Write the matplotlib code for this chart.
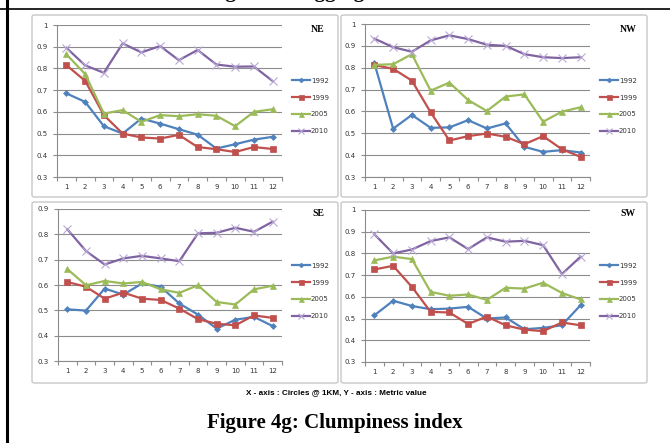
import matplotlib.pyplot as plt
from matplotlib.patches import FancyBboxPatch
from matplotlib.lines import Line2D
import numpy as np

# Données
circles = list(range(1, 13))
years = ['1992', '1999', '2005', '2010']

ne_1992 = [0.685, 0.646, 0.534, 0.500, 0.569, 0.546, 0.520, 0.495, 0.431, 0.451, 0.472, 0.485]
ne_1999 = [0.815, 0.743, 0.585, 0.500, 0.482, 0.477, 0.494, 0.438, 0.428, 0.415, 0.438, 0.429]
ne_2005 = [0.865, 0.774, 0.592, 0.608, 0.554, 0.585, 0.580, 0.589, 0.582, 0.534, 0.600, 0.612]
ne_2010 = [0.895, 0.814, 0.780, 0.915, 0.874, 0.903, 0.838, 0.885, 0.818, 0.808, 0.809, 0.742]

nw_1992 = [0.821, 0.521, 0.584, 0.525, 0.527, 0.560, 0.522, 0.545, 0.438, 0.415, 0.423, 0.412]
nw_1999 = [0.812, 0.795, 0.741, 0.596, 0.467, 0.487, 0.499, 0.484, 0.450, 0.487, 0.427, 0.392]
nw_2005 = [0.813, 0.816, 0.862, 0.695, 0.732, 0.652, 0.602, 0.668, 0.678, 0.553, 0.599, 0.619]
nw_2010 = [0.933, 0.894, 0.873, 0.925, 0.948, 0.931, 0.905, 0.900, 0.862, 0.848, 0.844, 0.848]

se_1992 = [0.504, 0.499, 0.586, 0.562, 0.606, 0.593, 0.527, 0.483, 0.428, 0.463, 0.474, 0.438]
se_1999 = [0.612, 0.593, 0.546, 0.570, 0.546, 0.541, 0.507, 0.465, 0.447, 0.441, 0.480, 0.470]
se_2005 = [0.663, 0.599, 0.616, 0.606, 0.612, 0.583, 0.569, 0.599, 0.533, 0.523, 0.583, 0.597]
se_2010 = [0.820, 0.734, 0.681, 0.705, 0.715, 0.705, 0.694, 0.804, 0.806, 0.826, 0.810, 0.850]

sw_1992 = [0.515, 0.582, 0.558, 0.543, 0.546, 0.554, 0.500, 0.505, 0.451, 0.457, 0.469, 0.562]
sw_1999 = [0.726, 0.743, 0.646, 0.531, 0.528, 0.475, 0.509, 0.469, 0.449, 0.442, 0.482, 0.469]
sw_2005 = [0.768, 0.785, 0.774, 0.623, 0.605, 0.611, 0.586, 0.642, 0.638, 0.665, 0.618, 0.588]
sw_2010 = [0.888, 0.800, 0.818, 0.857, 0.874, 0.820, 0.874, 0.854, 0.858, 0.838, 0.705, 0.785]

# Styles Excel
colors = ['#4F81BD', '#C0504D', '#9BBB59', '#8064A2']
edge_colors = ['#4F81BD', '#C0504D', '#9BBB59', '#B9A8D6']
markers = ['D', 's', '^', 'x']
msizes = [3, 4.5, 4.5, 5.5]

W, H = 670, 443
fig = plt.figure(figsize=(W / 100, H / 100), dpi=100)


def fx(px):
    return px / W


def fy(py):
    return 1 - py / H


def panel(name, series, ylo, yhi, ax_box, frame, legend_y, label_pos):
    # cadre gris du graphique
    x0, y0, x1, y1 = frame
    fig.patches.append(FancyBboxPatch((fx(x0), fy(y1)), fx(x1 - x0), (y1 - y0) / H,
                                      boxstyle='round,pad=0,rounding_size=0.004',
                                      transform=fig.transFigure, facecolor='none',
                                      edgecolor='#C8C8C8', linewidth=1.0, zorder=-5))
    ax_x0, ax_x1, top_px, bot_px = ax_box
    ax = fig.add_axes([fx(ax_x0), fy(bot_px), fx(ax_x1 - ax_x0), (bot_px - top_px) / H])
    ax.set_facecolor('none')
    for vals, c, ec, m, ms in zip(series, colors, edge_colors, markers, msizes):
        ax.plot(circles, vals, color=c, marker=m, markersize=ms, linewidth=1.6,
                markeredgecolor=ec, markerfacecolor=c,
                markeredgewidth=0.8 if m == 'x' else 0.5)
    ax.set_xlim(0.5, 12.5)
    ax.set_ylim(ylo, yhi)
    yt = np.round(np.arange(ylo, yhi + 0.001, 0.1), 1)
    ax.set_yticks(yt)
    ax.set_yticklabels([('%g' % v) for v in yt])
    ax.set_xticks(circles)
    ax.set_xticks(np.arange(0.5, 13, 1), minor=True)
    ax.grid(axis='y', color='#8C8C8C', linewidth=0.8)
    ax.set_axisbelow(True)
    for s in ['top', 'right']:
        ax.spines[s].set_visible(False)
    for s in ['left', 'bottom']:
        ax.spines[s].set_color('#8C8C8C')
        ax.spines[s].set_linewidth(0.8)
    ax.tick_params(axis='both', which='major', labelsize=5, colors='#8C8C8C',
                   labelcolor='#333333', length=3, width=0.8)
    ax.tick_params(axis='x', which='major', length=0, pad=5)
    ax.tick_params(axis='x', which='minor', length=3, width=0.8, color='#8C8C8C')
    handles = [Line2D([], [], color=c, marker=m, markersize=ms * 0.8, linewidth=1.6,
                      markeredgecolor=ec, markeredgewidth=0.8 if m == 'x' else 0.5)
               for c, ec, m, ms in zip(colors, edge_colors, markers, msizes)]
    fig.legend(handles, years, loc='center left', bbox_to_anchor=(fx(ax_x1 + 10), fy(legend_y)),
               bbox_transform=fig.transFigure, frameon=False, fontsize=5, handlelength=2.6,
               handletextpad=0.1, labelspacing=1.55, borderpad=0, borderaxespad=0,
               labelcolor='#333333')
    fig.text(fx(label_pos[0]), fy(label_pos[1]), name, ha='center', va='center',
             family='Liberation Serif', fontweight='bold', fontsize=7)
    return ax


panel('NE', [ne_1992, ne_1999, ne_2005, ne_2010], 0.3, 1.0,
      (57, 282, 25, 177), (32, 15, 338, 197), 106, (318, 29))
panel('NW', [nw_1992, nw_1999, nw_2005, nw_2010], 0.3, 1.0,
      (365, 590, 24, 177), (341, 15, 647, 197), 106, (628, 29))
panel('SE', [se_1992, se_1999, se_2005, se_2010], 0.3, 0.9,
      (58, 282, 209, 361), (32, 202, 338, 383), 291, (318, 214))
panel('SW', [sw_1992, sw_1999, sw_2005, sw_2010], 0.3, 1.0,
      (365, 590, 210, 362), (341, 202, 647, 383), 291, (628, 214))

# bordures de la page
fig.add_artist(Line2D([fx(7), fx(7)], [0, 1], color='black', linewidth=2.2,
                      transform=fig.transFigure))
fig.add_artist(Line2D([0, 1], [fy(9), fy(9)], color='black', linewidth=1.2,
                      transform=fig.transFigure))

# légende du graphique précédent (coupée en haut)
fig.text(0.5, fy(-2.5), 'Figure 4f: Aggregation index', ha='center', va='baseline',
         family='Liberation Serif', fontweight='bold', fontsize=15)

fig.text(fx(336), fy(393), 'X - axis : Circles @ 1KM, Y - axis : Metric value',
         ha='center', va='center', family='Liberation Sans', fontweight='bold',
         fontsize=5.9, stretch='condensed')
fig.text(fx(335), fy(423), 'Figure 4g: Clumpiness index', ha='center', va='center',
         family='Liberation Serif', fontweight='bold', fontsize=15)

fig.savefig('out.png', dpi=100)
